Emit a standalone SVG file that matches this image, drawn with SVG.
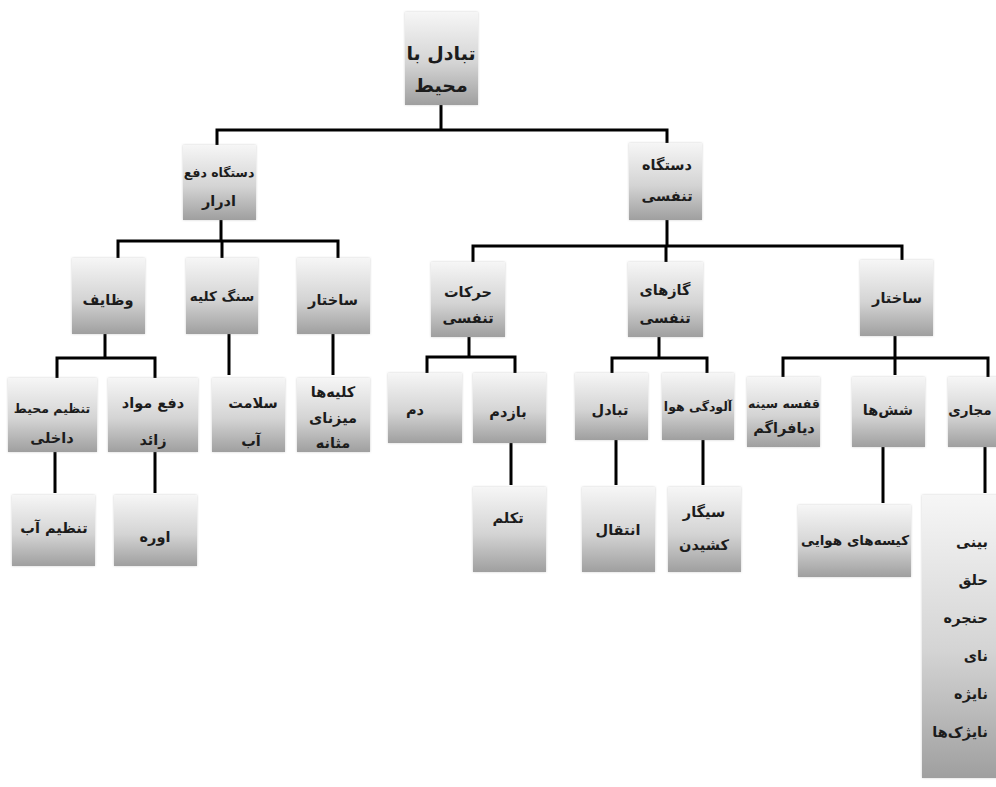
<svg xmlns="http://www.w3.org/2000/svg" width="996" height="787" viewBox="0 0 996 787">
<defs>
<linearGradient id="g" x1="0" y1="0" x2="0" y2="1">
<stop offset="0" stop-color="#f6f6f6"/>
<stop offset="0.55" stop-color="#d4d4d4"/>
<stop offset="1" stop-color="#9f9f9f"/>
</linearGradient>
<filter id="sh" x="-10%" y="-10%" width="120%" height="120%">
<feDropShadow dx="0" dy="0" stdDeviation="1.2" flood-color="#999" flood-opacity="0.5"/>
</filter>
</defs>
<style>
.b{fill:url(#g);filter:url(#sh)}
text{font-family:"DejaVu Sans",sans-serif;font-weight:bold;fill:#1c1c1c;font-size:14.5px;text-anchor:middle;dominant-baseline:central}
.r{font-size:19px}
.s{font-size:12.5px}
.m{font-size:13.5px}
.e{text-anchor:end}
.c{fill:none;stroke:#000;stroke-width:3}
</style>
<rect width="996" height="787" fill="#fff"/>
<g id="connectors" class="c">
<path d="M441 105V130M217 145V130H667V143"/>
<path d="M221 220V241M118 258V241H338V258M222 241V258"/>
<path d="M667 220V246M473 262V246H902V260M666 246V262"/>
<path d="M105 334V358M57 378V358H155V378"/>
<path d="M229 334V375M333 334V375"/>
<path d="M55 452V493M155 452V493"/>
<path d="M469 337V357M427 373V357H515V373"/>
<path d="M659 337V358M612 373V358H707V373"/>
<path d="M895 336V375M783 377V358H988V377"/>
<path d="M511 443V485M616 440V485M703 440V485"/>
<path d="M883 447V503M985 447V493"/>
</g>
<g id="n-root"><rect class="b" x="405" y="12" width="73" height="93"/><text class="r" x="441" y="53">تبادل با</text><text class="r" x="441" y="85">محیط</text></g>
<g id="n-daf"><rect class="b" x="183" y="145" width="73" height="75"/><text class="s" x="219" y="172">دستگاه دفع</text><text x="219" y="201">ادرار</text></g>
<g id="n-tanaf"><rect class="b" x="629" y="143" width="73" height="77"/><text x="667" y="165">دستگاه</text><text x="667" y="196">تنفسی</text></g>
<g id="n-vazayef"><rect class="b" x="72" y="258" width="73" height="76"/><text x="108" y="300">وظایف</text></g>
<g id="n-sang"><rect class="b" x="186" y="258" width="72" height="76"/><text class="m" x="222" y="296">سنگ کلیه</text></g>
<g id="n-sakhtar1"><rect class="b" x="297" y="258" width="73" height="76"/><text x="333" y="300">ساختار</text></g>
<g id="n-tanzim"><rect class="b" x="8" y="378" width="89" height="74"/><text class="s" x="52" y="408">تنظیم محیط</text><text x="52" y="438">داخلی</text></g>
<g id="n-dafmavad"><rect class="b" x="108" y="378" width="90" height="74"/><text x="153" y="403">دفع مواد</text><text x="153" y="440">زائد</text></g>
<g id="n-salamat"><rect class="b" x="212" y="378" width="73" height="74"/><text x="253" y="403">سلامت</text><text x="251" y="441">آب</text></g>
<g id="n-kolie"><rect class="b" x="297" y="378" width="73" height="74"/><text x="333" y="392">کلیه&#x200C;ها</text><text x="333" y="418">میزنای</text><text x="333" y="443">مثانه</text></g>
<g id="n-tanzimab"><rect class="b" x="12" y="495" width="83" height="71"/><text x="54" y="528">تنظیم آب</text></g>
<g id="n-ure"><rect class="b" x="114" y="495" width="83" height="71"/><text x="155" y="537">اوره</text></g>
<g id="n-harekat"><rect class="b" x="431" y="262" width="74" height="75"/><text x="468" y="292">حرکات</text><text x="468" y="318">تنفسی</text></g>
<g id="n-gaz"><rect class="b" x="628" y="262" width="75" height="75"/><text x="665" y="290">گازهای</text><text x="665" y="318">تنفسی</text></g>
<g id="n-sakhtar2"><rect class="b" x="860" y="260" width="73" height="76"/><text x="897" y="298">ساختار</text></g>
<g id="n-dam"><rect class="b" x="388" y="373" width="74" height="70"/><text x="415" y="410">دم</text></g>
<g id="n-bazdam"><rect class="b" x="473" y="373" width="73" height="70"/><text x="508" y="412">بازدم</text></g>
<g id="n-tabadol"><rect class="b" x="575" y="373" width="73" height="67"/><text x="610" y="410">تبادل</text></g>
<g id="n-aludegi"><rect class="b" x="662" y="373" width="72" height="67"/><text class="s" x="698" y="406">آلودگی هوا</text></g>
<g id="n-ghafase"><rect class="b" x="747" y="377" width="73" height="70"/><text class="s" x="784" y="403">قفسه سینه</text><text x="784" y="428">دیافراگم</text></g>
<g id="n-shosh"><rect class="b" x="852" y="377" width="73" height="70"/><text x="888" y="410">شش&#x200C;ها</text></g>
<g id="n-majari"><rect class="b" x="948" y="377" width="60" height="70"/><text class="m" x="970" y="410">مجاری</text></g>
<g id="n-takallom"><rect class="b" x="473" y="487" width="73" height="85"/><text x="508" y="518">تکلم</text></g>
<g id="n-enteghal"><rect class="b" x="582" y="487" width="73" height="85"/><text x="618" y="530">انتقال</text></g>
<g id="n-sigar"><rect class="b" x="668" y="487" width="73" height="85"/><text x="704" y="512">سیگار</text><text x="704" y="545">کشیدن</text></g>
<g id="n-kise"><rect class="b" x="798" y="505" width="113" height="72"/><text class="m" x="855" y="540">کیسه&#x200C;های هوایی</text></g>
<g id="n-majari-list"><rect class="b" x="922" y="495" width="86" height="283"/><text class="e" x="988" y="542">بینی</text><text class="e" x="988" y="580">حلق</text><text class="e" x="988" y="618">حنجره</text><text class="e" x="988" y="656">نای</text><text class="e" x="988" y="694">نایژه</text><text class="e" x="988" y="732">نایژک&#x200C;ها</text></g>
</svg>
